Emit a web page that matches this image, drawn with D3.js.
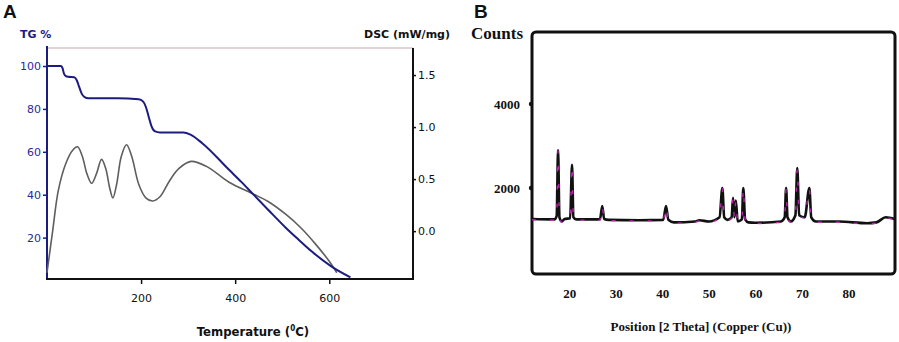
<!DOCTYPE html>
<html>
<head>
<meta charset="utf-8">
<script src="https://cdn.jsdelivr.net/npm/d3@7"></script>
<style>
  body { margin: 0; background: #fff; }
  svg { display: block; }
</style>
</head>
<body>
<svg id="chart" width="899" height="342"></svg>
<script>
// Panel A: TG (%) and DSC (mW/mg) against temperature (C)
const tgTicks = [20, 40, 60, 80, 100]
const dscTicks = [0.0, 0.5, 1.0, 1.5]
const tempTicks = [200, 400, 600]
const tgCurve = [
  [0, 100], [30, 100], [33, 99], [36, 96.5], [40, 95.3], [45, 95], [58, 94.8], [63, 93.5],
  [68, 90.5], [74, 87], [80, 85.5], [88, 85], [150, 85], [195, 84.5], [204, 83.5], [210, 81],
  [216, 76.5], [222, 72], [230, 69.5], [240, 69], [290, 69], [305, 68], [330, 64], [387, 51.6],
  [413, 46], [437, 40.5], [470, 33], [508, 24.5], [535, 19], [563, 13.5], [605, 6.5], [645, 1.5]
]
const dscCurve = [
  [0, -0.40], [12, 0.0], [24, 0.39], [40, 0.65], [55, 0.78], [65, 0.81], [75, 0.72],
  [85, 0.55], [95, 0.46], [105, 0.55], [116, 0.69], [125, 0.60], [133, 0.42], [140, 0.32],
  [148, 0.45], [158, 0.72], [169, 0.83], [180, 0.72], [195, 0.45], [210, 0.32], [225, 0.29],
  [240, 0.33], [260, 0.48], [280, 0.60], [306, 0.67], [340, 0.62], [387, 0.47], [437, 0.36],
  [470, 0.285], [508, 0.16], [540, 0.03], [570, -0.12], [600, -0.29], [616, -0.40]
]

// Panel B: XRD pattern, counts against 2 theta
const thetaTicks = [20, 30, 40, 50, 60, 70, 80]
const countTicks = [2000, 4000]
const xrdPattern = [
  [12, 1260], [16.8, 1250], [17.3, 1330], [17.6, 2905], [17.9, 1300], [18.4, 1200], [19.0, 1260],
  [20.2, 1280], [20.6, 2548], [20.9, 1300], [21.5, 1250], [26.6, 1250], [27.1, 1571], [27.5, 1260],
  [28.5, 1240], [35, 1230], [40.2, 1240], [40.8, 1571], [41.3, 1240], [42.5, 1180], [47, 1200],
  [48, 1230], [50, 1200], [52.3, 1300], [52.9, 2000], [53.3, 1300], [54, 1240], [54.9, 1300],
  [55.2, 1762], [55.5, 1300], [55.8, 1700], [56.2, 1200], [57.1, 1250], [57.4, 2000], [57.8, 1250],
  [58.5, 1180], [60, 1170], [65.5, 1200], [66.3, 1300], [66.6, 2000], [66.9, 1300], [67.6, 1200],
  [68.6, 1350], [69.0, 2476], [69.4, 1350], [70.6, 1300], [71.6, 2000], [72.0, 1300], [73, 1200],
  [78, 1200], [84, 1160], [86, 1180], [88, 1300], [90, 1260]
]

let svg = d3.select('#chart')

// ---------- panel A ----------
let a = { left: 47, right: 413, top: 48, bottom: 279 }
let xA = d3.scaleLinear().domain([0, 778]).range([a.left, a.right])
let yTG = d3.scaleLinear().domain([0.7, 108.4]).range([a.bottom, a.top])
let yDSC = d3.scaleLinear().domain([-0.46, 1.76]).range([a.bottom, a.top])

let sans = 'DejaVu Sans, Verdana, sans-serif'
let navy = '#1c1c80'

svg.append('text').attr('x', 3).attr('y', 18).text('A')
  .attr('font-family', 'Liberation Sans, Arial, sans-serif').attr('font-weight', 'bold')
  .attr('font-size', 19).attr('fill', '#111')

// top frame line
svg.append('line')
  .attr('x1', a.left).attr('x2', a.right).attr('y1', a.top).attr('y2', a.top)
  .attr('stroke', '#d8c6c6').attr('stroke-width', 1.5)

let gLeft = svg.append('g').attr('transform', `translate(${a.left},0)`)
  .call(d3.axisLeft(yTG).tickValues(tgTicks).tickSize(4).tickPadding(2))
gLeft.select('.domain').remove()
gLeft.selectAll('line').attr('stroke', navy).attr('stroke-width', 1.5)
gLeft.selectAll('text').attr('font-family', sans).attr('font-size', 11).attr('fill', '#2a2a9a')
svg.append('line').attr('x1', a.left).attr('x2', a.left).attr('y1', a.top - 2).attr('y2', a.bottom)
  .attr('stroke', navy).attr('stroke-width', 2)

let gRight = svg.append('g').attr('transform', `translate(${a.right},0)`)
  .call(d3.axisRight(yDSC).tickValues(dscTicks).tickFormat(d3.format('.1f')).tickSize(3).tickPadding(2))
gRight.select('.domain').remove()
gRight.selectAll('line').attr('stroke', '#111').attr('stroke-width', 1.5)
gRight.selectAll('text').attr('font-family', sans).attr('font-size', 11).attr('fill', '#111')
svg.append('line').attr('x1', a.right).attr('x2', a.right).attr('y1', a.top).attr('y2', a.bottom + 1)
  .attr('stroke', '#111').attr('stroke-width', 2)

let gBottom = svg.append('g').attr('transform', `translate(0,${a.bottom})`)
  .call(d3.axisBottom(xA).tickValues(tempTicks).tickSize(5).tickPadding(10))
gBottom.select('.domain').remove()
gBottom.selectAll('line').attr('stroke', '#111').attr('stroke-width', 1.5)
gBottom.selectAll('text').attr('font-family', sans).attr('font-size', 11).attr('fill', '#111')
svg.append('line').attr('x1', a.left - 1).attr('x2', a.right + 1).attr('y1', a.bottom).attr('y2', a.bottom)
  .attr('stroke', '#111').attr('stroke-width', 2)

svg.append('text').attr('x', 20).attr('y', 38).text('TG %')
  .attr('font-family', sans).attr('font-weight', 'bold').attr('font-size', 11).attr('fill', navy)
svg.append('text').attr('x', 450).attr('y', 38).attr('text-anchor', 'end').text('DSC (mW/mg)')
  .attr('font-family', sans).attr('font-weight', 'bold').attr('font-size', 11).attr('fill', '#111')
let tLabel = svg.append('text').attr('x', 253).attr('y', 336).attr('text-anchor', 'middle')
  .attr('font-family', 'DejaVu Sans Condensed, ' + sans).attr('font-weight', 'bold')
  .attr('font-size', 13).attr('fill', '#111')
tLabel.append('tspan').text('Temperature (')
tLabel.append('tspan').text('0').attr('font-size', 8).attr('dy', -5)
tLabel.append('tspan').text('C)').attr('dy', 5)

svg.append('path').datum(dscCurve)
  .attr('d', d3.line().x(d => xA(d[0])).y(d => yDSC(d[1])).curve(d3.curveCatmullRom.alpha(0.5)))
  .attr('fill', 'none').attr('stroke', '#5e5e5e').attr('stroke-width', 1.6)
svg.append('path').datum(tgCurve)
  .attr('d', d3.line().x(d => xA(d[0])).y(d => yTG(d[1])).curve(d3.curveMonotoneX))
  .attr('fill', 'none').attr('stroke', navy).attr('stroke-width', 2)

// ---------- panel B ----------
let b = { left: 532, right: 895, top: 32, bottom: 274 }
let xB = d3.scaleLinear().domain([12, 90]).range([b.left, b.right])
let yB = d3.scaleLinear().domain([-50, 5714]).range([b.bottom, b.top])
let serif = 'Liberation Serif, Times New Roman, serif'

svg.append('text').attr('x', 474).attr('y', 18).text('B')
  .attr('font-family', 'Liberation Sans, Arial, sans-serif').attr('font-weight', 'bold')
  .attr('font-size', 19).attr('fill', '#111')

svg.append('rect')
  .attr('x', b.left).attr('y', b.top).attr('width', b.right - b.left).attr('height', b.bottom - b.top)
  .attr('rx', 4).attr('fill', 'none').attr('stroke', '#111').attr('stroke-width', 3)

svg.append('text').attr('x', 523).attr('y', 39).attr('text-anchor', 'end').text('Counts')
  .attr('font-family', serif).attr('font-weight', 'bold').attr('font-size', 17).attr('fill', '#111')

let gCounts = svg.append('g').attr('transform', `translate(${b.left},0)`)
  .call(d3.axisLeft(yB).tickValues(countTicks).tickFormat(d3.format('d')).tickSize(0).tickPadding(12))
gCounts.select('.domain').remove()
gCounts.selectAll('text').attr('font-family', serif).attr('font-weight', 'bold')
  .attr('font-size', 13).attr('fill', '#111')
svg.selectAll('circle.tickdot').data(countTicks).join('circle').attr('class', 'tickdot')
  .attr('cx', b.left - 1).attr('cy', d => yB(d)).attr('r', 2.2).attr('fill', '#111')

let gTheta = svg.append('g').attr('transform', `translate(0,${b.bottom})`)
  .call(d3.axisBottom(xB).tickValues(thetaTicks).tickSize(0).tickPadding(15))
gTheta.select('.domain').remove()
gTheta.selectAll('text').attr('font-family', serif).attr('font-weight', 'bold')
  .attr('font-size', 13).attr('fill', '#111')

svg.append('text').attr('x', 701).attr('y', 331).attr('text-anchor', 'middle')
  .text('Position [2 Theta] (Copper (Cu))')
  .attr('font-family', serif).attr('font-weight', 'bold').attr('font-size', 13).attr('fill', '#111')

let xrdLine = d3.line().x(d => xB(d[0])).y(d => yB(d[1])).curve(d3.curveMonotoneX)
svg.append('path').datum(xrdPattern).attr('d', xrdLine)
  .attr('fill', 'none').attr('stroke', '#111').attr('stroke-width', 2.6)
  .attr('stroke-linejoin', 'round')
svg.append('path').datum(xrdPattern).attr('d', xrdLine)
  .attr('transform', 'translate(0,0.8)')
  .attr('fill', 'none').attr('stroke', '#e22bd0').attr('stroke-width', 1.4)
  .attr('stroke-dasharray', '4 14').attr('opacity', 0.8)
</script>
</body>
</html>
